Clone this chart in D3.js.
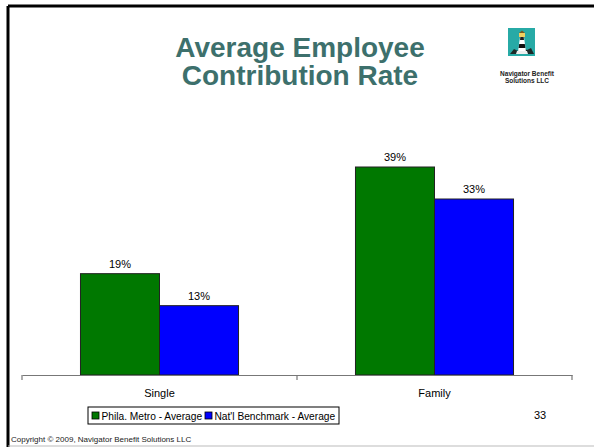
<!DOCTYPE html>
<html>
<head>
<meta charset="utf-8">
<script src="https://cdn.jsdelivr.net/npm/d3@7/dist/d3.min.js"></script>
<style>
  html, body { margin: 0; padding: 0; background: #fff; }
  svg { display: block; font-family: Arial, "Liberation Sans", sans-serif; }
</style>
</head>
<body>
<svg id="chart" width="594" height="447"></svg>
<script>
// Chart data
const categories = ["Single", "Family"];
const seriesNames = ["Phila. Metro - Average", "Nat'l Benchmark - Average"];
const philaValues = [19, 39];
const benchmarkValues = [13, 33];
const seriesColors = ["#007800", "#0000ff"];
const titleLines = ["Average Employee", "Contribution Rate"];
const pageNumber = "33";
const copyright = "Copyright \u00a9 2009, Navigator Benefit Solutions LLC";
const logoLines = ["Navigator Benefit", "Solutions LLC"];

const svg = d3.select("#chart");
const W = 594, H = 447;

// Slide frame
svg.append("line").attr("x1", 8).attr("y1", 6).attr("x2", W).attr("y2", 6)
  .attr("stroke", "#000").attr("stroke-width", 3);
svg.append("line").attr("x1", 8).attr("y1", 6).attr("x2", 8).attr("y2", H)
  .attr("stroke", "#000").attr("stroke-width", 3);
svg.append("line").attr("x1", 8).attr("y1", 446).attr("x2", W).attr("y2", 446)
  .attr("stroke", "#bbb").attr("stroke-width", 1);

// Title
svg.append("g").selectAll("text").data(titleLines).join("text")
  .attr("x", 300).attr("y", (d, i) => 57 + i * 28)
  .attr("text-anchor", "middle")
  .attr("font-size", 28).attr("font-weight", "bold")
  .attr("fill", "#3d706c")
  .text(d => d);

// Logo: lighthouse on teal tile
const logo = svg.append("g").attr("transform", "translate(508,28)");
logo.append("rect").attr("width", 27).attr("height", 28).attr("fill", "#27aaa6");
logo.append("path").attr("d", "M2,26 L6,21 L10,23 L14,20 L19,22 L23,20 L26,26 Z").attr("fill", "#1c2a28");
logo.append("path").attr("d", "M10,24 L12,9 L16,9 L18,24 Z").attr("fill", "#fff");
logo.append("path").attr("d", "M11.2,16 L16.8,16 L17.4,20 L10.6,20 Z").attr("fill", "#111");
logo.append("path").attr("d", "M12.3,9 L15.7,9 L16,12 L12,12 Z").attr("fill", "#222");
logo.append("rect").attr("x", 11).attr("y", 5).attr("width", 6).attr("height", 4).attr("fill", "#f0d060");
logo.append("path").attr("d", "M11,5 L14,2.5 L17,5 Z").attr("fill", "#7a5a20");
logo.append("path").attr("d", "M8,26 L9,23 L19,23 L20,26 Z").attr("fill", "#eee");
svg.append("g").selectAll("text").data(logoLines).join("text")
  .attr("x", 527).attr("y", (d, i) => 76 + i * 7)
  .attr("text-anchor", "middle").attr("font-size", 6.5).attr("font-weight", "bold")
  .attr("fill", "#222").text(d => d);

// Plot area
const plotLeft = 22, plotRight = 572, plotBottom = 375, plotTop = 135;
const x0 = d3.scaleBand().domain(categories).range([plotLeft, plotRight]).paddingInner(0).paddingOuter(0);
const x1 = d3.scaleBand().domain(seriesNames).range([0, x0.bandwidth()]).paddingInner(0).paddingOuter(0.74);
const y = d3.scaleLinear().domain([0, 45]).range([plotBottom, plotTop]);

const rows = categories.map((c, i) => ({
  category: c,
  values: [
    { series: seriesNames[0], value: philaValues[i], color: seriesColors[0] },
    { series: seriesNames[1], value: benchmarkValues[i], color: seriesColors[1] }
  ]
}));

const groups = svg.append("g").selectAll("g").data(rows).join("g")
  .attr("transform", d => `translate(${x0(d.category)},0)`);

groups.selectAll("rect").data(d => d.values).join("rect")
  .attr("x", d => x1(d.series))
  .attr("y", d => y(d.value))
  .attr("width", x1.bandwidth())
  .attr("height", d => y(0) - y(d.value))
  .attr("fill", d => d.color)
  .attr("stroke", "#222").attr("stroke-width", 1);

groups.selectAll("text").data(d => d.values).join("text")
  .attr("x", d => x1(d.series) + x1.bandwidth() / 2)
  .attr("y", d => y(d.value) - 6)
  .attr("text-anchor", "middle").attr("font-size", 11).attr("fill", "#000")
  .text(d => d.value + "%");

// Category axis
const axis = d3.axisBottom(x0).tickSize(0).tickPadding(14);
const axisG = svg.append("g").attr("transform", `translate(0,${plotBottom})`).call(axis);
axisG.select(".domain").attr("stroke", "#777").attr("stroke-width", 1.2);
axisG.selectAll(".tick text").attr("font-size", 11).attr("fill", "#000")
  .attr("font-family", "Arial, 'Liberation Sans', sans-serif");
// Tick marks at category boundaries
const bounds = [plotLeft, ...categories.slice(1).map(c => x0(c)), plotRight];
axisG.selectAll("line.bound").data(bounds).join("line").attr("class", "bound")
  .attr("x1", d => d).attr("x2", d => d).attr("y1", 0).attr("y2", 5)
  .attr("stroke", "#777").attr("stroke-width", 1.2);

// Legend
const legend = svg.append("g").attr("transform", "translate(88,407)");
legend.append("rect").attr("width", 251).attr("height", 17)
  .attr("fill", "#fff").attr("stroke", "#000").attr("stroke-width", 1);
const legendX = [4, 117];
const items = legend.selectAll("g").data(seriesNames).join("g")
  .attr("transform", (d, i) => `translate(${legendX[i]},0)`);
items.append("rect").attr("x", 0).attr("y", 5).attr("width", 7).attr("height", 7)
  .attr("fill", (d, i) => seriesColors[i]).attr("stroke", "#000").attr("stroke-width", 0.8);
items.append("text").attr("x", 9.5).attr("y", 12.5).attr("font-size", 10.2).attr("fill", "#000")
  .text(d => d);

// Page number and copyright
svg.append("text").attr("x", 540).attr("y", 419).attr("text-anchor", "middle")
  .attr("font-size", 11).text(pageNumber);
svg.append("text").attr("x", 11).attr("y", 442).attr("font-size", 8).attr("fill", "#222")
  .text(copyright);
</script>
</body>
</html>
